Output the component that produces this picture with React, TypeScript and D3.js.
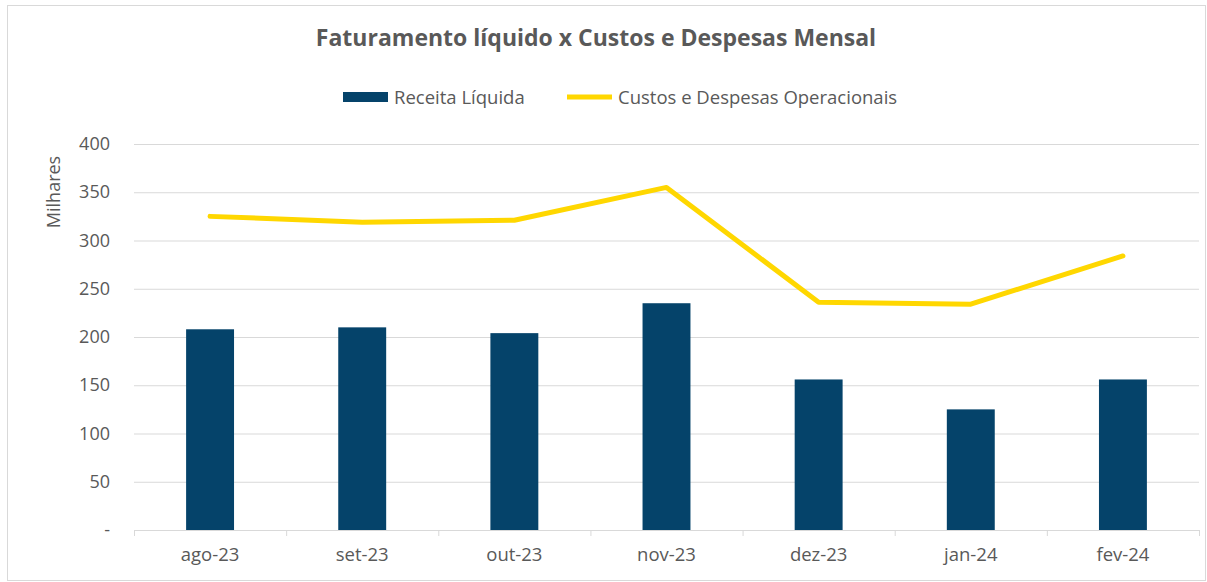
import React, { useEffect, useRef } from "react";
import * as d3 from "d3";

const categories = ["ago-23", "set-23", "out-23", "nov-23", "dez-23", "jan-24", "fev-24"];
const receita = [208, 210, 204, 235, 156, 125, 156];
const custos = [325, 319, 321, 355, 236, 234, 284];
const yTicks = [0, 50, 100, 150, 200, 250, 300, 350, 400];

const W = 1207;
const H = 582;
const FONT = "'Open Sans', 'Liberation Sans', sans-serif";
const TXT = "#595959";

export default function App() {
  const ref = useRef<SVGSVGElement>(null);
  useEffect(() => {
    const svg = d3.select(ref.current);
    svg.selectAll("*").remove();

    const left = 134, right = 1199, top = 144, bottom = 530;
    const x = d3.scaleBand().domain(categories).range([left, right]).paddingInner(0.685).paddingOuter(0.3425);
    const xc = d3.scaleBand().domain(categories).range([left, right]);
    const y = d3.scaleLinear().domain([0, 400]).range([bottom, top]);

    svg.append("rect").attr("x", 7.5).attr("y", 5.5).attr("width", W - 9).attr("height", H - 7)
      .attr("fill", "#fff").attr("stroke", "#d9d9d9");

    svg.append("text").attr("x", 596).attr("y", 46).attr("text-anchor", "middle")
      .attr("font-family", FONT).attr("font-weight", "bold").attr("font-size", 23)
      .attr("fill", TXT).text("Faturamento líquido x Custos e Despesas Mensal");

    // legend
    svg.append("rect").attr("x", 343).attr("y", 92).attr("width", 45).attr("height", 10).attr("fill", "#05436A");
    svg.append("text").attr("x", 394).attr("y", 103.5).attr("font-family", FONT).attr("font-size", 18.5)
      .attr("fill", TXT).text("Receita Líquida");
    svg.append("line").attr("x1", 567).attr("x2", 612).attr("y1", 97).attr("y2", 97)
      .attr("stroke", "#FFD700").attr("stroke-width", 5);
    svg.append("text").attr("x", 618).attr("y", 103.5).attr("font-family", FONT).attr("font-size", 18.5)
      .attr("fill", TXT).text("Custos e Despesas Operacionais");

    // grid
    svg.append("g").selectAll("line").data(yTicks.slice(1)).join("line")
      .attr("x1", left).attr("x2", right).attr("y1", d => y(d) + 0.5).attr("y2", d => y(d) + 0.5)
      .attr("stroke", "#d9d9d9").attr("stroke-width", 1);

    // y labels
    svg.append("g").selectAll("text").data(yTicks).join("text")
      .attr("x", 110).attr("y", d => y(d) + 6).attr("text-anchor", "end")
      .attr("font-family", FONT).attr("font-size", 18).attr("fill", TXT)
      .text(d => (d === 0 ? "-" : String(d)));

    svg.append("text").attr("transform", `translate(60,192) rotate(-90)`).attr("text-anchor", "middle")
      .attr("font-family", FONT).attr("font-size", 18).attr("fill", TXT).text("Milhares");

    // bars
    svg.append("g").selectAll("rect").data(receita).join("rect")
      .attr("x", (_, i) => x(categories[i])!).attr("width", x.bandwidth())
      .attr("y", d => y(d)).attr("height", d => bottom - y(d))
      .attr("fill", "#05436A");

    // x axis
    svg.append("line").attr("x1", left).attr("x2", right).attr("y1", bottom + 0.5).attr("y2", bottom + 0.5)
      .attr("stroke", "#d9d9d9");
    const tickXs = categories.map(c => xc(c)!).concat([right]);
    svg.append("g").selectAll("line").data(tickXs).join("line")
      .attr("x1", d => d + 0.5).attr("x2", d => d + 0.5).attr("y1", bottom).attr("y2", bottom + 6)
      .attr("stroke", "#d9d9d9");
    svg.append("g").selectAll("text").data(categories).join("text")
      .attr("x", d => xc(d)! + xc.bandwidth() / 2).attr("y", 561).attr("text-anchor", "middle")
      .attr("font-family", FONT).attr("font-size", 18.5).attr("fill", TXT).text(d => d);

    // line
    const line = d3.line<number>().x((_, i) => xc(categories[i])! + xc.bandwidth() / 2).y(d => y(d));
    svg.append("path").datum(custos).attr("d", line).attr("fill", "none")
      .attr("stroke", "#FFD700").attr("stroke-width", 5).attr("stroke-linejoin", "round").attr("stroke-linecap", "round");
  }, []);

  return (
    <svg ref={ref} width={W} height={H} style={{ position: "fixed", left: 0, top: 0, background: "#fff" }} />
  );
}
